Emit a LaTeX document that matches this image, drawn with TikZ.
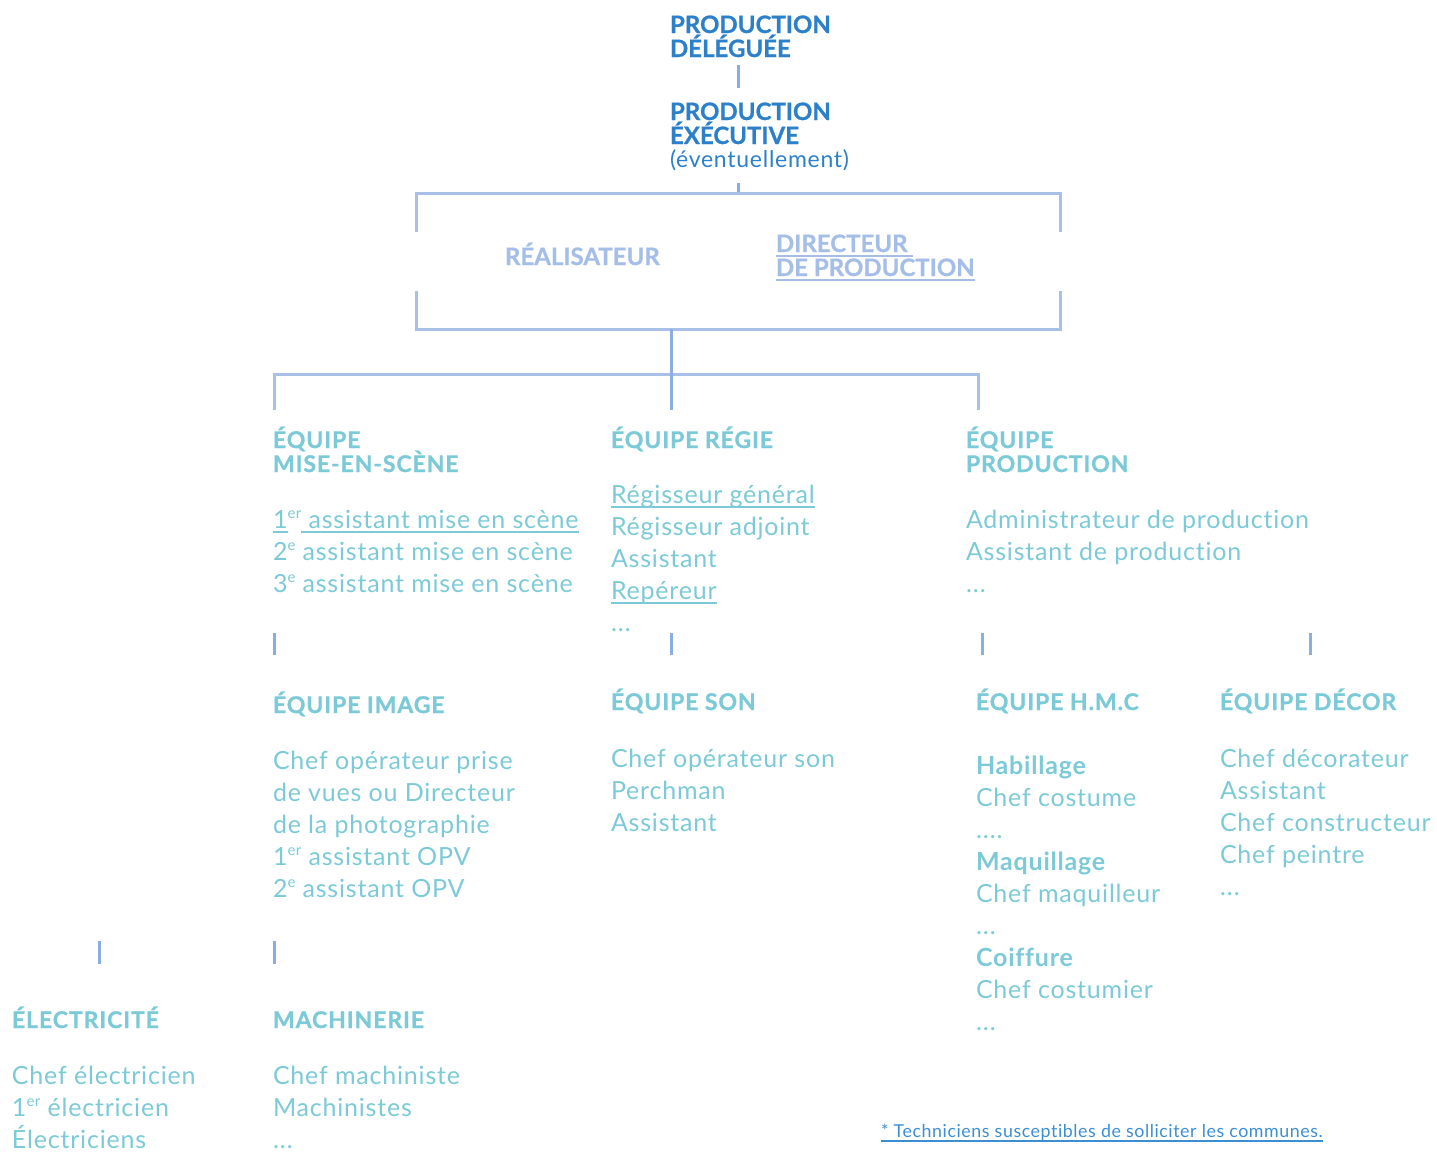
\documentclass[tikz,border=0pt]{standalone}
\usepackage{fontspec}
\setmainfont{Lato}[BoldFeatures={FakeBold=0.8}]
\newfontfamily\bodyf{Lato}[LetterSpace=3.2, Ligatures=NoCommon]
\newfontfamily\headf{Lato}[LetterSpace=4, BoldFeatures={FakeBold=1}]
\definecolor{cdark}{HTML}{2C80C9}
\definecolor{clav}{HTML}{A5BEE7}
\definecolor{cbox}{HTML}{A8C0E8}
\definecolor{ctick}{HTML}{8AAEE4}
\definecolor{cteal}{HTML}{7CCAD7}
\definecolor{cfoot}{HTML}{3C8ED3}
\newsavebox\ulbox
\newcommand\myul[1]{\sbox\ulbox{#1}\rlap{\rule[-4.5pt]{\wd\ulbox}{1.5pt}}\usebox\ulbox}
\newcommand\supx[1]{\raisebox{9.5pt}{\fontsize{15}{15}\selectfont #1}}
\newcommand\dd{.\kern1pt.\kern1pt.}
\tikzset{
  txt/.style={inner sep=0pt, outer sep=0pt, anchor=base west},
  title/.style={txt, font=\bfseries\fontsize{24}{24}\selectfont, text=cdark},
  titlelight/.style={txt, font=\bodyf\fontsize{23}{23}\selectfont, text=cdark},
  lav/.style={txt, font=\bfseries\fontsize{24}{24}\selectfont, text=clav},
  head/.style={txt, font=\headf\bfseries\fontsize{23}{23}\selectfont, text=cteal},
  body/.style={txt, font=\bodyf\fontsize{25}{25}\selectfont, text=cteal},
  subhead/.style={txt, font=\bodyf\bfseries\fontsize{25}{25}\selectfont, text=cteal},
  foot/.style={txt, font=\bodyf\fontsize{17.8}{17.8}\selectfont, text=cfoot},
  boxline/.style={draw=cbox, line width=3pt},
  tick/.style={draw=ctick, line width=3pt},
}
\newcommand\blist[5]{%
  \foreach \t [count=\i] in {#5}{\node[#4] (#1\i) at (#2,{#3+(\i-1)*32}) {\t};}}
\begin{document}
\begin{tikzpicture}[x=1pt,y=-1pt]
\useasboundingbox (0,0) rectangle (1437,1151);
% top titles
\node[title] (pd1) at (670,33) {PRODUCTION};
\node[title] (pd2) at (670,57) {DÉLÉGUÉE};
\node[title] (pe1) at (670,120) {PRODUCTION};
\node[title] (pe2) at (670,144) {ÉXÉCUTIVE};
\node[titlelight] (pe3) at (670,167) {(éventuellement)};
% connectors
\coordinate (c1a) at (738,65); \coordinate (c1b) at (738,88);
\draw[tick] (c1a) -- (c1b);
\coordinate (c2a) at (738,183); \coordinate (c2b) at (738,193);
\draw[tick] (c2a) -- (c2b);
% box
\coordinate (bTL) at (416,193); \coordinate (bTR) at (1060,193);
\coordinate (bBL) at (416,329); \coordinate (bBR) at (1060,329);
\draw[boxline] (416,232) -- (bTL) -- (bTR) -- (1060,232);
\draw[boxline] (416,291) -- (bBL) -- (bBR) -- (1060,291);
\node[lav] (real) at (505,265) {RÉALISATEUR};
\node[lav] (dir1) at (776,252) {\myul{DIRECTEUR\ }};
\node[lav] (dir2) at (776,276) {\myul{DE PRODUCTION}};
% branch
\coordinate (hL) at (274,374); \coordinate (hR) at (978,374);
\coordinate (mTop) at (671,329); \coordinate (mBot) at (671,410);
\draw[boxline] (274,410) -- (hL) -- (hR) -- (978,410);
\draw[tick] (mTop) -- (mBot);
% first row teams
\node[head] (ms1) at (273,448) {ÉQUIPE};
\node[head] (ms2) at (273,472) {MISE-EN-SCÈNE};
\node[body] (ms3) at (273,528) {\myul{1}\supx{er}\myul{\ assistant mise en scène}};
\node[body] (ms4) at (273,560) {2\supx{e} assistant mise en scène};
\node[body] (ms5) at (273,592) {3\supx{e} assistant mise en scène};
\node[head] (rg0) at (611,448) {ÉQUIPE RÉGIE};
\blist{rg}{611}{503}{body}{\myul{Régisseur général},Régisseur adjoint,Assistant,\myul{Repéreur},\dd}
\node[head] (pr1) at (966,448) {ÉQUIPE};
\node[head] (pr2) at (966,472) {PRODUCTION};
\blist{pa}{966}{528}{body}{Administrateur de production,Assistant de production,\dd}
% ticks row 2
\foreach \x/\n in {274/ta,671/tb,982/tc,1310/td}{
  \coordinate (\n1) at (\x,633); \coordinate (\n2) at (\x,655);
  \draw[tick] (\n1) -- (\n2);}
% second row teams
\node[head] (im0) at (273,713) {ÉQUIPE IMAGE};
\blist{im}{273}{769}{body}{Chef opérateur prise,de vues ou Directeur,de la photographie,1\supx{er} assistant OPV,2\supx{e} assistant OPV}
\node[head] (so0) at (611,710) {ÉQUIPE SON};
\blist{so}{611}{767}{body}{Chef opérateur son,Perchman,Assistant}
\node[head] (hm0) at (976,710) {ÉQUIPE H.M.C};
\node[subhead] (hm1) at (976,774) {Habillage};
\node[body] (hm2) at (976,806) {Chef costume};
\node[body] (hm3) at (976,838) {.\kern1pt.\kern1pt.\kern1pt.};
\node[subhead] (hm4) at (976,870) {Maquillage};
\node[body] (hm5) at (976,902) {Chef maquilleur};
\node[body] (hm6) at (976,934) {\dd};
\node[subhead] (hm7) at (976,966) {Coiffure};
\node[body] (hm8) at (976,998) {Chef costumier};
\node[body] (hm9) at (976,1030) {\dd};
\node[head] (de0) at (1220,710) {ÉQUIPE DÉCOR};
\blist{de}{1220}{767}{body}{Chef décorateur,Assistant,Chef constructeur,Chef peintre,\dd}
% ticks row 3
\foreach \x/\n in {99/te,274/tf}{
  \coordinate (\n1) at (\x,941); \coordinate (\n2) at (\x,964);
  \draw[tick] (\n1) -- (\n2);}
\node[head] (el0) at (12,1028) {ÉLECTRICITÉ};
\blist{el}{12}{1084}{body}{Chef électricien,1\supx{er} électricien,Électriciens}
\node[head] (ma0) at (273,1028) {MACHINERIE};
\blist{ma}{273}{1084}{body}{Chef machiniste,Machinistes,\dd}
% footnote
\node[foot] (fn) at (881,1137) {\myul{* Techniciens susceptibles de solliciter les communes.}};
\end{tikzpicture}
\end{document}
